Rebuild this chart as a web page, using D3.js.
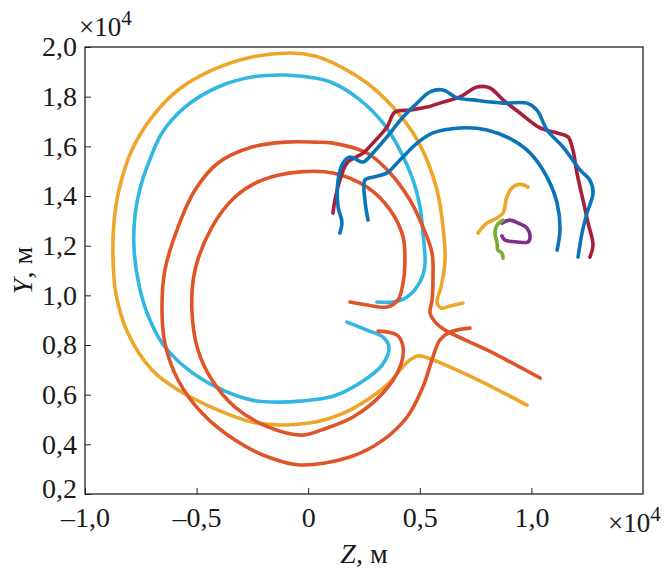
<!DOCTYPE html>
<html lang="ru">
<head>
	<meta charset="utf-8">
	<title>Траектории</title>
	<script type="text/javascript" src="https://d3js.org/d3.v7.min.js"></script>
	<style type="text/css">
		body { margin: 0; background: #fff; }
		text { font-family: "Liberation Serif", "DejaVu Serif", serif; fill: #1a1a1a; }
	</style>
</head>
<body>
	<script type="text/javascript">
		// size of the picture and the plot box inside it
		var w = 665;
		var h = 573;
		var box = { left: 85, right: 643, top: 47, bottom: 494 };

		// tick values (units x10^4 m)
		var zTicks = [-1.0, -0.5, 0, 0.5, 1.0];
		var yTicks = [0.2, 0.4, 0.6, 0.8, 1.0, 1.2, 1.4, 1.6, 1.8, 2.0];

		// big orange loop
		var orangeZ = [0.980, 0.725, 0.523, 0.492, 0.456, 0.411, 0.367, 0.308, 0.187, 0.053, -0.037, -0.126, -0.252, -0.404, -0.583, -0.700, -0.808, -0.862, -0.875, -0.870, -0.848, -0.790, -0.700, -0.583, -0.431, -0.252, -0.082, 0.030, 0.111, 0.263, 0.380, 0.470, 0.532, 0.577, 0.604, 0.613, 0.595, 0.577, 0.595, 0.635, 0.693];
		var orangeY = [0.558, 0.675, 0.752, 0.756, 0.740, 0.699, 0.651, 0.607, 0.538, 0.494, 0.482, 0.478, 0.490, 0.538, 0.619, 0.699, 0.848, 1.009, 1.162, 1.295, 1.424, 1.585, 1.718, 1.827, 1.907, 1.960, 1.976, 1.964, 1.936, 1.855, 1.758, 1.654, 1.545, 1.424, 1.275, 1.142, 1.033, 0.973, 0.949, 0.957, 0.969];

		// cyan loop
		var cyanZ = [0.174, 0.263, 0.335, 0.362, 0.331, 0.232, 0.111, -0.037, -0.126, -0.252, -0.404, -0.552, -0.655, -0.722, -0.758, -0.780, -0.776, -0.749, -0.722, -0.655, -0.552, -0.404, -0.252, -0.104, 0.030, 0.111, 0.232, 0.335, 0.411, 0.470, 0.501, 0.514, 0.523, 0.501, 0.443, 0.380, 0.308];
		var cyanY = [0.892, 0.860, 0.832, 0.792, 0.719, 0.647, 0.594, 0.574, 0.570, 0.578, 0.627, 0.711, 0.808, 0.929, 1.041, 1.182, 1.323, 1.444, 1.517, 1.654, 1.758, 1.839, 1.879, 1.887, 1.875, 1.855, 1.787, 1.694, 1.585, 1.464, 1.356, 1.251, 1.122, 1.054, 0.993, 0.973, 0.973];

		// outer red loop
		var redOuterZ = [0.725, 0.635, 0.590, 0.559, 0.514, 0.443, 0.335, 0.187, -0.037, -0.180, -0.328, -0.476, -0.583, -0.642, -0.655, -0.642, -0.583, -0.507, -0.404, -0.252, -0.104, 0.030, 0.111, 0.263, 0.367, 0.456, 0.514, 0.555, 0.559, 0.555, 0.546, 0.573, 0.613, 0.801, 1.039];
		var redOuterY = [0.868, 0.852, 0.820, 0.752, 0.631, 0.510, 0.417, 0.349, 0.317, 0.349, 0.417, 0.526, 0.659, 0.808, 0.941, 1.102, 1.275, 1.424, 1.533, 1.597, 1.617, 1.617, 1.613, 1.573, 1.493, 1.384, 1.275, 1.170, 1.062, 0.981, 0.929, 0.888, 0.860, 0.780, 0.667];

		// inner red loop
		var redInnerZ = [0.187, 0.263, 0.353, 0.402, 0.425, 0.433, 0.425, 0.367, 0.263, 0.111, -0.037, -0.207, -0.328, -0.431, -0.507, -0.521, -0.494, -0.431, -0.328, -0.180, -0.028, 0.084, 0.201, 0.335, 0.411, 0.425, 0.398, 0.313];
		var redInnerY = [0.973, 0.961, 0.953, 0.981, 1.050, 1.122, 1.235, 1.344, 1.436, 1.493, 1.497, 1.464, 1.396, 1.275, 1.102, 0.941, 0.780, 0.659, 0.550, 0.470, 0.437, 0.466, 0.510, 0.607, 0.711, 0.792, 0.840, 0.856];

		// dark red jagged arc
		var darkRedZ = [0.111, 0.120, 0.142, 0.174, 0.246, 0.290, 0.353, 0.389, 0.456, 0.532, 0.604, 0.680, 0.756, 0.814, 0.873, 0.949, 1.039, 1.115, 1.164, 1.186, 1.204, 1.231, 1.254, 1.276, 1.262];
		var darkRedY = [1.331, 1.384, 1.464, 1.533, 1.573, 1.613, 1.678, 1.738, 1.746, 1.758, 1.778, 1.799, 1.839, 1.835, 1.787, 1.734, 1.674, 1.654, 1.638, 1.585, 1.493, 1.384, 1.291, 1.203, 1.154];

		// blue jagged arc
		var blueOuterZ = [0.142, 0.151, 0.134, 0.134, 0.156, 0.187, 0.246, 0.290, 0.353, 0.425, 0.488, 0.546, 0.604, 0.667, 0.738, 0.873, 0.980, 1.025, 1.070, 1.142, 1.218, 1.262, 1.276, 1.249, 1.227, 1.209];
		var blueOuterY = [1.251, 1.295, 1.356, 1.464, 1.533, 1.557, 1.537, 1.573, 1.638, 1.718, 1.774, 1.819, 1.827, 1.795, 1.787, 1.774, 1.774, 1.746, 1.666, 1.597, 1.505, 1.464, 1.412, 1.331, 1.251, 1.154];

		// blue smooth arc
		var blueInnerZ = [0.268, 0.254, 0.254, 0.290, 0.353, 0.411, 0.488, 0.559, 0.680, 0.801, 0.917, 0.994, 1.070, 1.115, 1.128, 1.115];
		var blueInnerY = [1.303, 1.384, 1.464, 1.476, 1.493, 1.545, 1.613, 1.654, 1.674, 1.666, 1.625, 1.573, 1.476, 1.372, 1.263, 1.182];

		// small cluster
		var smallOrangeZ = [0.985, 0.949, 0.917, 0.890, 0.881, 0.873, 0.846, 0.801, 0.770, 0.761];
		var smallOrangeY = [1.436, 1.448, 1.436, 1.396, 1.356, 1.331, 1.311, 1.291, 1.263, 1.251];
		var purpleZ = [0.868, 0.904, 0.940, 0.980, 0.994, 0.985, 0.935, 0.881, 0.868];
		var purpleY = [1.291, 1.303, 1.291, 1.271, 1.235, 1.215, 1.215, 1.223, 1.239];
		var greenZ = [0.873, 0.846, 0.837, 0.846, 0.850, 0.868, 0.873];
		var greenY = [1.303, 1.283, 1.251, 1.211, 1.182, 1.170, 1.150];

		var curves = [
			{ z: orangeZ, y: orangeY, color: "#eea62a" },
			{ z: cyanZ, y: cyanY, color: "#32b6e2" },
			{ z: redOuterZ, y: redOuterY, color: "#df5428" },
			{ z: redInnerZ, y: redInnerY, color: "#df5428" },
			{ z: darkRedZ, y: darkRedY, color: "#a6203a" },
			{ z: blueOuterZ, y: blueOuterY, color: "#0b73ba" },
			{ z: blueInnerZ, y: blueInnerY, color: "#0b73ba" },
			{ z: smallOrangeZ, y: smallOrangeY, color: "#eea62a" },
			{ z: purpleZ, y: purpleY, color: "#7e2f8e" },
			{ z: greenZ, y: greenY, color: "#77ac30" }
		];

		var svg = d3.select("body")
			.append("svg")
			.attr("width", w)
			.attr("height", h);

		var x = d3.scaleLinear().domain([-1.0, 1.5]).range([box.left, box.right]);
		var y = d3.scaleLinear().domain([0.2, 2.0]).range([box.bottom, box.top]);

		// decimal comma, dash for minus
		function fmt(d) {
			if (d === 0) return "0";
			return d3.format(".1f")(d).replace(".", ",").replace("−", "–").replace("-", "–");
		}

		var line = d3.line()
			.x(function(d) { return x(d[0]); })
			.y(function(d) { return y(d[1]); })
			.curve(d3.curveCatmullRom.alpha(0.5));

		svg.selectAll("path.curve")
			.data(curves)
			.enter()
			.append("path")
			.attr("class", "curve")
			.attr("d", function(c) {
				return line(c.z.map(function(v, i) { return [v, c.y[i]]; }));
			})
			.attr("fill", "none")
			.attr("stroke", function(c) { return c.color; })
			.attr("stroke-width", 3.6)
			.attr("stroke-linecap", "round")
			.attr("stroke-linejoin", "round");

		// axes with inward ticks
		var xAxis = d3.axisBottom(x).tickValues(zTicks).tickSizeInner(-6).tickSizeOuter(0).tickPadding(13).tickFormat(fmt);
		var yAxis = d3.axisLeft(y).tickValues(yTicks).tickSizeInner(-6).tickSizeOuter(0).tickPadding(8).tickFormat(fmt);

		var gx = svg.append("g").attr("transform", "translate(0," + box.bottom + ")").call(xAxis);
		var gy = svg.append("g").attr("transform", "translate(" + box.left + ",0)").call(yAxis);
		[gx, gy].forEach(function(g) {
			g.select(".domain").remove();
			g.selectAll("line").attr("stroke", "#222");
			g.selectAll("text").attr("font-size", "28px").attr("font-family", "Liberation Serif").attr("fill", "#1a1a1a");
		});
		// lift the lowest y label a little so it clears the x labels
		gy.selectAll("text").attr("dy", function(d) { return d === 0.2 ? "0.12em" : "0.32em"; });

		svg.append("rect")
			.attr("x", box.left)
			.attr("y", box.top)
			.attr("width", box.right - box.left)
			.attr("height", box.bottom - box.top)
			.attr("fill", "none")
			.attr("stroke", "#222")
			.attr("stroke-width", 1.3);

		// x10^4 multipliers
		function mult(px, py) {
			var t = svg.append("text").attr("x", px).attr("y", py).attr("font-size", "27px");
			t.append("tspan").text("×10");
			t.append("tspan").attr("dy", "-11").attr("font-size", "21px").text("4");
		}
		mult(box.left - 6, 36);
		mult(608, 532);

		// axis titles
		var zt = svg.append("text")
			.attr("x", (box.left + box.right) / 2)
			.attr("y", 563)
			.attr("text-anchor", "middle")
			.attr("font-size", "28px");
		zt.append("tspan").attr("font-style", "italic").text("Z");
		zt.append("tspan").text(", м");

		var yt = svg.append("text")
			.attr("transform", "translate(32," + ((box.top + box.bottom) / 2) + ") rotate(-90)")
			.attr("text-anchor", "middle")
			.attr("font-size", "28px");
		yt.append("tspan").attr("font-style", "italic").text("Y");
		yt.append("tspan").text(", м");
	</script>
</body>
</html>
